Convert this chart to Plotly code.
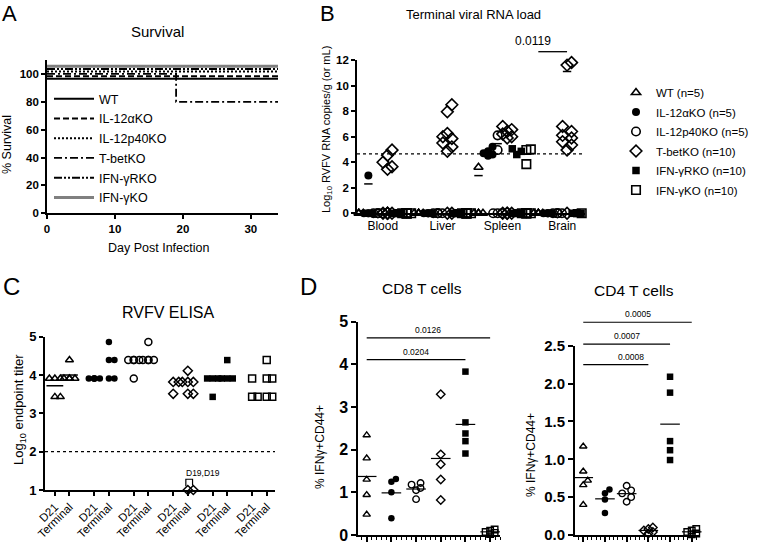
import numpy as np
import plotly.graph_objects as go

W, H = 760, 542
FONT = "Liberation Sans, Arial, Helvetica, sans-serif"

# ================= DATA =================
# ---- Panel A: survival (%)
surv_names = ["WT", "IL-12αKO", "IL-12p40KO", "T-betKO", "IFN-γRKO", "IFN-γKO"]
surv_days = [0, 19, 34]
surv_WT = [100, 100, 100]
surv_IL12a = [100, 100, 100]
surv_IL12p40 = [100, 100, 100]
surv_Tbet = [100, 80, 80]
surv_IFNgR = [100, 100, 100]
surv_IFNg = [100, 100, 100]
surv_xticks = [0, 10, 20, 30]
surv_yticks = [0, 20, 40, 60, 80, 100]

# ---- Panel B: terminal viral RNA load (log10), detected values per organ; non-detects plotted at 0
organs = ["Blood", "Liver", "Spleen", "Brain"]
rna_names = ["WT (n=5)", "IL-12αKO (n=5)", "IL-12p40KO (n=5)", "T-betKO (n=10)",
             "IFN-γRKO (n=10)", "IFN-γKO (n=10)"]
rna_n = [5, 5, 5, 10, 10, 10]
rna_WT = [[], [], [3.6], []]
rna_IL12a = [[2.95], [], [5.2, 4.85, 4.7, 4.6, 4.5], []]
rna_IL12p40 = [[], [], [6.1, 4.95], []]
rna_Tbet = [[4.95, 4.55, 4.0, 3.65, 3.45],
            [8.5, 7.95, 6.25, 6.0, 5.85, 5.5, 5.2, 4.85],
            [6.8, 6.55, 6.4, 6.2, 6.0, 5.9],
            [11.8, 11.6, 6.8, 6.4, 6.1, 5.9, 5.6, 5.35, 4.95]]
rna_IFNgR = [[], [], [5.05, 4.85, 4.6], []]
rna_IFNg = [[], [], [5.0, 4.95, 3.85], []]
rna_lod = 4.65
rna_dash_organ = [0, 2, 2, 3]
rna_dash_group = [1, 0, 2, 3]
rna_dash_value = [2.3, 2.95, 5.45, 11.1]
rna_yticks = [0, 2, 4, 6, 8, 10, 12]
rna_p_text = "0.0119"
rna_p_value_y = 12.65

# ---- Panel C: RVFV ELISA (log10 endpoint titer)
elisa_groups = ["WT", "IL-12αKO", "IL-12p40KO", "T-betKO", "IFN-γRKO", "IFN-γKO"]
elisa_times = ["D21", "Terminal"]
elisa_D21 = [[3.91, 3.91, 3.91, 3.43, 3.43],
             [3.91, 3.91, 3.91, 3.91, 3.91],
             [4.39, 4.39, 4.39, 4.39, 3.91],
             [3.82, 3.82, 3.51],
             [3.91, 3.91, 3.91, 3.43],
             [3.91, 3.43, 3.43]]
elisa_Term = [[4.39, 3.91, 3.91, 3.91, 3.91],
              [4.86, 4.39, 4.39, 3.91, 3.91],
              [4.86, 4.39, 4.39, 4.39, 4.39],
              [4.11, 3.82, 3.82, 3.82, 3.51, 3.51, 1.0, 1.0],
              [4.39, 3.91, 3.91, 3.91],
              [4.39, 3.91, 3.91, 3.43, 3.43]]
elisa_dash_group = [0, 0]
elisa_dash_time = [0, 1]
elisa_dash_value = [3.72, 4.0]
elisa_lod = 2
elisa_yticks = [1, 2, 3, 4, 5]

# ---- Panel D: % IFNγ+CD44+
cd_groups = ["WT", "IL-12αKO", "IL-12p40KO", "T-betKO", "IFN-γRKO", "IFN-γKO"]
cd8_vals = [[2.34, 1.80, 1.30, 0.94, 0.48],
            [1.31, 1.25, 1.0, 0.39],
            [1.22, 1.18, 1.10, 1.05, 0.84],
            [3.30, 1.89, 1.66, 1.30, 0.82],
            [3.83, 2.64, 2.38, 2.20, 1.91],
            [0.13, 0.10, 0.07, 0.05, 0.02]]
cd4_vals = [[1.17, 0.84, 0.72, 0.66, 0.40],
            [0.60, 0.55, 0.47, 0.29],
            [0.65, 0.59, 0.55, 0.50, 0.44],
            [0.10, 0.08, 0.06, 0.04, 0.02],
            [2.09, 1.88, 1.24, 1.12, 0.99],
            [0.08, 0.06, 0.04, 0.02, 0.01]]
cd8_yticks = [0, 1, 2, 3, 4, 5]
cd4_yticks = [0.0, 0.5, 1.0, 1.5, 2.0, 2.5]
cd8_p_text = ["0.0126", "0.0204"]
cd8_p_to = [5, 4]
cd8_p_y = [4.62, 4.11]
cd4_p_text = ["0.0005", "0.0007", "0.0008"]
cd4_p_to = [5, 4, 3]
cd4_p_y = [2.81, 2.52, 2.25]

# ================= STYLE =================
SYM = ["triangle-up-open", "circle", "circle-open", "diamond-open", "square", "square-open"]
FILLED = [False, True, False, False, True, False]


def mk(g, size, lw=1.6):
    return dict(symbol=SYM[g], size=size, color="black",
                line=dict(color="black", width=0 if FILLED[g] else lw))


def bold(vals, fmt="{:g}"):
    return ["<b>" + fmt.format(v) + "</b>" for v in vals]


def swarm(vals, sx, sy, size, kmax, spacing):
    """GraphPad-like horizontal spread for overlapping symbols (pixel space)."""
    order = sorted(range(len(vals)), key=lambda i: vals[i])
    cands = [0.0]
    for k in range(1, kmax + 1):
        cands += [k * spacing, -k * spacing]
    placed, offs = [], [0.0] * len(vals)
    for i in order:
        yp = vals[i] * sy
        best, best_d = 0.0, -1.0
        for c in cands:
            dmin = min((np.hypot(c - px, yp - py) for px, py in placed), default=1e9)
            if dmin >= size:
                best = c
                break
            if dmin > best_d:
                best_d, best = dmin, c
        placed.append((best, yp))
        offs[i] = best / sx
    return offs


def dom_x(a, b):
    return [a / W, b / W]


def dom_y(top, bottom):
    return [1 - bottom / H, 1 - top / H]


fig = go.Figure()

# ---------------- Panel A ----------------
surv_series = [surv_WT, surv_IL12a, surv_IL12p40, surv_Tbet, surv_IFNgR, surv_IFNg]
surv_disp_off = [-3.5, -1.7, 1.7, 0.0, 3.5, 5.5]
surv_dash = ["solid", "6px,3px", "2px,2px", "8px,3px,2px,3px", "8px,2px,2px,2px,2px,2px", "solid"]
surv_color = ["black", "black", "black", "black", "black", "#808080"]
surv_width = [2, 2, 2, 1.8, 2, 3]
for i, s in enumerate(surv_series):
    fig.add_trace(go.Scatter(
        x=surv_days, y=[v + surv_disp_off[i] if v == 100 else v for v in s],
        mode="lines", line=dict(shape="hv", dash=surv_dash[i], color=surv_color[i], width=surv_width[i]),
        name=surv_names[i], xaxis="x", yaxis="y", legend="legend", legendgroup=f"a{i}",
        cliponaxis=False))

# ---------------- Panel B ----------------
rna_groups = [rna_WT, rna_IL12a, rna_IL12p40, rna_Tbet, rna_IFNgR, rna_IFNg]
offB = [-0.4, -0.24, -0.08, 0.08, 0.24, 0.4]
sizeB = [8, 8, 8.5, 9, 7.5, 8.5]
for g in range(6):
    xs, ys = [], []
    for o in range(4):
        v = list(rna_groups[g][o]) + [0.0] * (rna_n[g] - len(rna_groups[g][o]))
        offs = swarm(v, 60, 12.78, 7.5, 1, 4.5)
        xs += [o + offB[g] + d for d in offs]
        ys += v
    fig.add_trace(go.Scatter(x=xs, y=ys, xaxis="x2", yaxis="y2", mode="markers",
                             marker=mk(g, sizeB[g]), name=rna_names[g], legend="legend2",
                             legendgroup=f"b{g}", cliponaxis=False))
fig.add_trace(go.Scatter(
    x=[rna_dash_organ[k] + offB[rna_dash_group[k]] for k in range(len(rna_dash_value))],
    y=rna_dash_value, xaxis="x2", yaxis="y2", mode="markers", showlegend=False,
    marker=dict(symbol="line-ew", size=6, line=dict(color="black", width=1.5)), cliponaxis=False))

# ---------------- Panel C ----------------
C_STEP = 0.37
xC_ticks, xC_text = [], []
for g in range(6):
    for t, arr in enumerate([elisa_D21[g], elisa_Term[g]]):
        xc = g + C_STEP * t
        xC_ticks.append(xc)
        xC_text.append(elisa_times[t])
        offs = swarm(arr, 39.4, 38.3, 6.5, 1, 5.5)
        fig.add_trace(go.Scatter(x=[xc + d for d in offs], y=arr, xaxis="x3", yaxis="y3",
                                 mode="markers", marker=mk(g, 7 if not FILLED[g] else 6.5, 1.5),
                                 showlegend=False, cliponaxis=False))
fig.add_trace(go.Scatter(
    x=[elisa_dash_group[k] + C_STEP * elisa_dash_time[k] for k in range(len(elisa_dash_value))],
    y=elisa_dash_value, xaxis="x3", yaxis="y3", mode="markers", showlegend=False, cliponaxis=False,
    marker=dict(symbol="line-ew", size=12, line=dict(color="black", width=1.5))))

# ---------------- Panel D ----------------
for vals, xa, ya, sx, sy in [(cd8_vals, "x4", "y4", 24.7, 42.7), (cd4_vals, "x5", "y5", 21.7, 75.7)]:
    for g in range(6):
        offs = swarm(vals[g], sx, sy, 6, 1, 4.5)
        fig.add_trace(go.Scatter(x=[g + d for d in offs], y=vals[g], xaxis=xa, yaxis=ya,
                                 mode="markers", marker=mk(g, 6.5, 1.4), showlegend=False,
                                 cliponaxis=False))
        fig.add_trace(go.Scatter(x=[g], y=[float(np.mean(vals[g]))], xaxis=xa, yaxis=ya,
                                 mode="markers", showlegend=False, cliponaxis=False,
                                 marker=dict(symbol="line-ew", size=14, line=dict(color="black", width=1.2))))

# ================= LAYOUT =================
TICKB = dict(family=FONT, size=11.5, color="black")


def ax(**kw):
    d = dict(showline=True, linecolor="black", linewidth=1.6, ticks="outside", tickcolor="black",
             tickwidth=1.5, ticklen=4, showgrid=False, zeroline=False, tickfont=TICKB, fixedrange=True,
             automargin=False, ticklabeloverflow="allow")
    d.update(kw)
    return d


rangeB = [-0.43, 3.38]
rangeC = [-0.25, 5.58]
range4 = [-0.34, 5.4]
range5 = [-0.38, 5.38]

layout = dict(
    width=W, height=H, margin=dict(l=0, r=0, t=0, b=0, pad=0, autoexpand=False),
    paper_bgcolor="white", plot_bgcolor="white", font=dict(family=FONT, color="black"),
    xaxis=ax(domain=dom_x(47, 278), range=[0, 34], tickvals=surv_xticks, ticktext=bold(surv_xticks),
             anchor="y"),
    yaxis=ax(domain=dom_y(60, 213.3), range=[0, 110], tickvals=surv_yticks, ticktext=bold(surv_yticks),
             anchor="x"),
    xaxis2=ax(domain=dom_x(357, 585), range=rangeB, tickvals=list(range(4)), ticktext=organs,
              ticks="", tickfont=dict(family=FONT, size=12, color="black"),
              anchor="y2"),
    yaxis2=ax(domain=dom_y(60, 213.3), range=[0, 12], tickvals=rna_yticks, ticktext=bold(rna_yticks),
              anchor="x2"),
    xaxis3=ax(domain=dom_x(45, 275), range=rangeC, tickvals=xC_ticks, ticktext=xC_text,
              tickangle=-45, tickfont=dict(family=FONT, size=11.5, color="black"), anchor="y3"),
    yaxis3=ax(domain=dom_y(336.7, 490), range=[1, 5], tickvals=elisa_yticks, ticktext=bold(elisa_yticks),
              anchor="x3", tickfont=dict(family=FONT, size=13, color="black")),
    xaxis4=ax(domain=dom_x(358.3, 500), range=range4, tickvals=list(range(6)), showticklabels=False,
              ticklen=6, linewidth=2, anchor="y4",
              minor=dict(dtick=0.2, tick0=0, ticklen=3, tickwidth=1, ticks="outside", tickcolor="black")),
    yaxis4=ax(domain=dom_y(321.7, 535), range=[0, 5], tickvals=cd8_yticks, ticktext=bold(cd8_yticks),
              linewidth=2, ticklen=5, anchor="x4", tickfont=dict(family=FONT, size=16, color="black")),
    xaxis5=ax(domain=dom_x(575, 700), range=range5, tickvals=list(range(6)), showticklabels=False,
              ticklen=6, linewidth=2, anchor="y5",
              minor=dict(dtick=0.2, tick0=0, ticklen=3, tickwidth=1, ticks="outside", tickcolor="black")),
    yaxis5=ax(domain=dom_y(345.7, 535), range=[0, 2.5], tickvals=cd4_yticks,
              ticktext=bold(cd4_yticks, "{:.1f}"), linewidth=2, ticklen=5, anchor="x5",
              tickfont=dict(family=FONT, size=15, color="black")),
    legend=dict(x=49 / W, y=1 - 84 / H, xanchor="left", yanchor="top", bgcolor="rgba(0,0,0,0)",
                font=dict(family=FONT, size=12.5, color="black"), itemwidth=40, tracegroupgap=0.5),
    legend2=dict(x=616 / W, y=1 - 78 / H, xanchor="left", yanchor="top", bgcolor="rgba(0,0,0,0)",
                 font=dict(family=FONT, size=11.5, color="black"), tracegroupgap=0.5),
    showlegend=True,
)


def ann(text, xp, yp, size, **kw):
    d = dict(text=text, x=xp / W, y=1 - yp / H, xref="paper", yref="paper", showarrow=False,
             font=dict(family=FONT, size=size, color="black"), xanchor="center", yanchor="middle")
    d.update(kw)
    return d


anns = [
    ann("A", 9, 13, 22), ann("B", 327, 13, 22), ann("C", 11, 286, 24), ann("D", 308, 286, 24),
    ann("Survival", 157, 32, 15), ann("Terminal viral RNA load", 473, 15, 13),
    ann("RVFV ELISA", 168, 312, 16), ann("CD8 T cells", 422, 288, 15.5), ann("CD4 T cells", 634, 290, 15.5),
    ann("Day Post Infection", 158, 248, 12.5),
    ann("% Survival", 7, 145, 12.5, textangle=-90),
    ann("Log<sub>10</sub> RVFV RNA copies/g (or mL)", 327, 130, 11, textangle=-90),
    ann("Log<sub>10</sub> endpoint titer", 19, 410, 13, textangle=-90),
    ann("% IFNγ+CD44+", 320, 447, 12, textangle=-90),
    ann("% IFNγ+CD44+", 531, 455, 12, textangle=-90),
    ann("D19,D19", 203, 473, 8.5),
]

shapes = []


def fx(v, r):
    return (v - r[0]) / (r[1] - r[0])


# B: LOD and p-value bar
shapes.append(dict(type="line", xref="x2 domain", yref="y2", x0=0, x1=1, y0=rna_lod, y1=rna_lod,
                   line=dict(color="black", width=1.3, dash="dot")))
bx0 = fx(3 + offB[0], rangeB)
bx1 = fx(3 + offB[3], rangeB)
by = rna_p_value_y / 12
shapes.append(dict(type="line", xref="x2 domain", yref="y2 domain", x0=bx0, x1=bx1, y0=by, y1=by,
                   line=dict(color="black", width=1.3)))
anns.append(dict(text=rna_p_text, x=(bx0 + bx1) / 2, y=by, xref="x2 domain", yref="y2 domain",
                 showarrow=False, yanchor="bottom", yshift=2, font=dict(family=FONT, size=12, color="black")))

# C: LOD and bracket
shapes.append(dict(type="line", xref="x3 domain", yref="y3", x0=0, x1=1, y0=elisa_lod, y1=elisa_lod,
                   line=dict(color="black", width=1.3, dash="dot")))
xb = 3 + C_STEP
shapes.append(dict(type="path", xref="x3", yref="y3",
                   path=f"M{xb - 0.05},1.1 L{xb - 0.05},1.28 L{xb + 0.12},1.28 L{xb + 0.12},1.12",
                   line=dict(color="black", width=1.2)))

# D: p-value bars
for texts, tos, ys, xa, ya, rx, rtop in [(cd8_p_text, cd8_p_to, cd8_p_y, "x4", "y4", range4, 5),
                                         (cd4_p_text, cd4_p_to, cd4_p_y, "x5", "y5", range5, 2.5)]:
    for t, to, yv in zip(texts, tos, ys):
        x0, x1, yy = fx(0, rx), fx(to, rx), yv / rtop
        shapes.append(dict(type="line", xref=f"{xa} domain", yref=f"{ya} domain", x0=x0, x1=x1,
                           y0=yy, y1=yy, line=dict(color="black", width=1.2)))
        anns.append(dict(text=t, x=(x0 + x1) / 2, y=yy, xref=f"{xa} domain", yref=f"{ya} domain",
                         showarrow=False, yanchor="bottom", yshift=1,
                         font=dict(family=FONT, size=8.5, color="black")))

layout["annotations"] = anns
layout["shapes"] = shapes
fig.update_layout(**layout)
fig.write_html("out.html", config={"displayModeBar": False},
               post_script="document.body.style.margin='0';document.body.style.overflow='hidden';")
